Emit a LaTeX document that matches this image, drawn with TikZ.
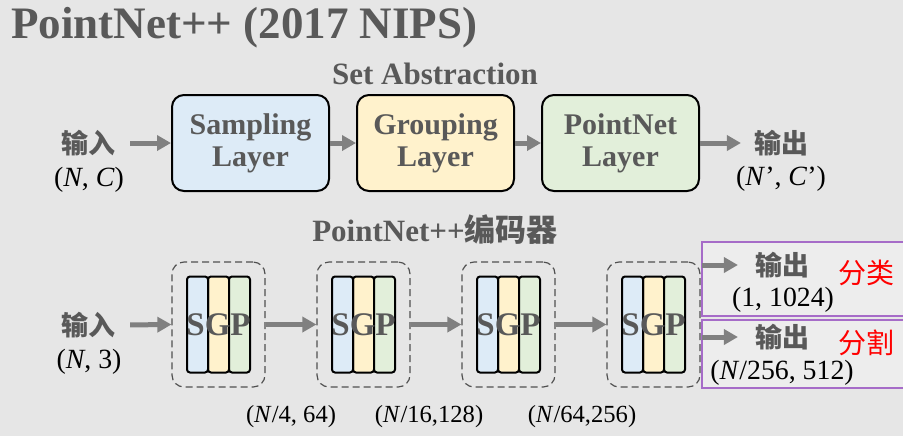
\documentclass[tikz,border=0pt]{standalone}
\usepackage{fontspec}
\setmainfont{Liberation Serif}
\newfontfamily\cjk{Noto Sans CJK SC}
\usepackage{tikz}
\usetikzlibrary{arrows.meta, positioning}
\definecolor{bggray}{HTML}{E6E6E6}
\definecolor{txtgray}{HTML}{595959}
\definecolor{arrgray}{HTML}{808080}
\definecolor{dashgray}{HTML}{505050}
\definecolor{sampblue}{HTML}{DDEBF7}
\definecolor{grpyellow}{HTML}{FFF2CC}
\definecolor{pnetgreen}{HTML}{E2EFDA}
\definecolor{outpurple}{HTML}{A66CC8}

\begin{document}
\begin{tikzpicture}[
        x=0.5pt, y=-0.5pt,
        title/.style={text=txtgray, font=\bfseries\fontsize{22.5}{26}\selectfont},
        head/.style={text=txtgray, font=\bfseries\fontsize{15.5}{18}\selectfont},
        layer/.style={draw=black, line width=1pt, rounded corners=6pt, minimum width=78.5pt, minimum height=48pt, align=center, text=txtgray, font=\bfseries\fontsize{15}{16}\selectfont},
        sgpbox/.style={draw=dashgray, line width=0.6pt, dash pattern=on 3.5pt off 2pt, rounded corners=6pt, minimum width=46.5pt, minimum height=62.5pt},
        bar/.style={draw=black, line width=1pt, rounded corners=1.5pt, minimum width=10.5pt, minimum height=48pt, inner sep=0pt, outer sep=0pt},
        sgptxt/.style={text=txtgray, font=\bfseries\fontsize{16.5}{18}\selectfont, inner sep=0pt},
        outbox/.style={fill=black!7, minimum width=100.5pt, outer sep=0pt},
        outline/.style={draw=outpurple, line width=1pt},
        flow/.style={-{Triangle[length=7pt,width=7.5pt]}, line width=2.5pt, draw=arrgray},
        cn/.style={text=txtgray, font=\cjk\bfseries\fontsize{13.5}{16}\selectfont},
        dim/.style={font=\fontsize{13.9}{16}\selectfont},
        small/.style={font=\fontsize{12.3}{14}\selectfont},
        tag/.style={text=red, font=\cjk\fontsize{14}{16}\selectfont}
    ]
    \fill[bggray] (0,0) rectangle (903,436);
    \useasboundingbox (0,0) rectangle (903,436);
    \node[title, anchor=west] (ttl) at (4,28) {PointNet++ (2017 NIPS)};
    \node[head] (sahead) at (435,74) {Set Abstraction};
    \node[layer, fill=sampblue] (samp) at (250.5,143) {Sampling\\Layer};
    \node[layer, fill=grpyellow] (grp) at (435.5,143) {Grouping\\Layer};
    \node[layer, fill=pnetgreen] (pnet) at (620.5,143) {PointNet\\Layer};
    \node[cn] (in1) at (88,143) {输入};
    \node[dim] (in1dim) at (89,180) {(\textit{N}, \textit{C})};
    \node[cn] (out1) at (781,143) {输出};
    \node[dim] (out1dim) at (781,179) {(\textit{N}’, \textit{C}’)};
    \draw[flow, shorten <=4pt] (in1.east) -- (samp.west);
    \draw[flow] (samp.east) -- (grp.west);
    \draw[flow] (grp.east) -- (pnet.west);
    \draw[flow, shorten >=3pt] (pnet.east) -- (out1.west);
    \node[head] (enchead) at (435,230) {PointNet++{\cjk\bfseries 编码器}};
    \node[sgpbox] (g1) at (218.5,324.5) {};
    \node[bar, fill=grpyellow] (gb1) at (g1) {};
    \node[bar, fill=sampblue, left=0pt of gb1] (sb1) {};
    \node[bar, fill=pnetgreen, right=0pt of gb1] (pb1) {};
    \node[sgptxt] (t1) at (g1) {SGP};
    \node[sgpbox] (g2) at (363.5,324.5) {};
    \node[bar, fill=grpyellow] (gb2) at (g2) {};
    \node[bar, fill=sampblue, left=0pt of gb2] (sb2) {};
    \node[bar, fill=pnetgreen, right=0pt of gb2] (pb2) {};
    \node[sgptxt] (t2) at (g2) {SGP};
    \node[sgpbox] (g3) at (508.5,324.5) {};
    \node[bar, fill=grpyellow] (gb3) at (g3) {};
    \node[bar, fill=sampblue, left=0pt of gb3] (sb3) {};
    \node[bar, fill=pnetgreen, right=0pt of gb3] (pb3) {};
    \node[sgptxt] (t3) at (g3) {SGP};
    \node[sgpbox] (g4) at (653.5,324.5) {};
    \node[bar, fill=grpyellow] (gb4) at (g4) {};
    \node[bar, fill=sampblue, left=0pt of gb4] (sb4) {};
    \node[bar, fill=pnetgreen, right=0pt of gb4] (pb4) {};
    \node[sgptxt] (t4) at (g4) {SGP};
    \node[cn] (in2) at (88,325) {输入};
    \node[dim] (in2dim) at (89,362) {(\textit{N}, 3)};
    \draw[flow, shorten <=4pt] (in2.east) -- (g1.west);
    \draw[flow] (g1.east) -- (g2.west);
    \draw[flow] (g2.east) -- (g3.west);
    \draw[flow] (g3.east) -- (g4.west);
    \node[small] (d1) at (291,417) {(\textit{N}/4, 64)};
    \node[small] (d2) at (429,417) {(\textit{N}/16,128)};
    \node[small] (d3) at (582,417) {(\textit{N}/64,256)};
    \node[outbox, minimum height=37pt] (clsbox) at (802.5,279) {};
    \node[outbox, minimum height=34pt] (segbox) at (802.5,354) {};
    \draw[outline] (clsbox.north east) -- (clsbox.north west) -- (clsbox.south west) -- (clsbox.south east);
    \draw[outline] (segbox.north east) -- (segbox.north west) -- (segbox.south west) -- (segbox.south east);
    \node[cn] (out2) at (782,265) {输出};
    \node[dim] (out2dim) at (783,300) {(1, 1024)};
    \node[tag] (cls) at (866,273) {分类};
    \node[cn] (out3) at (782,337) {输出};
    \node[dim] (out3dim) at (782,373) {(\textit{N}/256, 512)};
    \node[tag] (seg) at (866,343) {分割};
    \draw[flow, shorten >=5pt] (clsbox.west |- out2) -- (out2.west);
    \draw[flow, shorten >=5pt] (segbox.west |- out3) -- (out3.west);
    \end{tikzpicture}
\end{document}
